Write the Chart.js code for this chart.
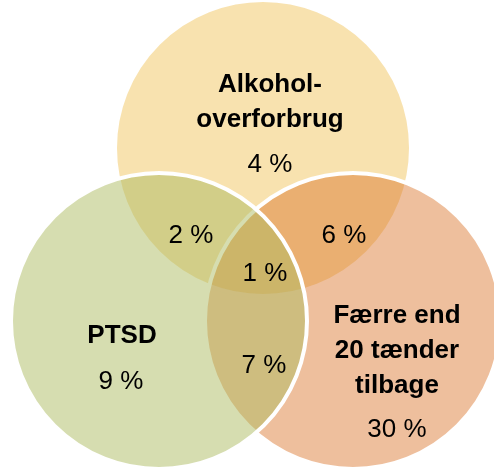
<!DOCTYPE html>
<html>
<head>
<meta charset="utf-8">
<script src="https://cdn.jsdelivr.net/npm/chart.js@4"></script>
<style>
  html, body { margin: 0; padding: 0; background: #fff; }
  canvas { display: block; }
</style>
</head>
<body>
<canvas id="venn" width="494" height="472"></canvas>
<script>
// ======== Dados ========
const grupos = ["Alkoholoverforbrug", "PTSD", "Færre end 20 tænder tilbage"];
const cirkelX = [263, 159, 353];
const cirkelY = [148, 321, 321];
const cirkelR = [148, 148, 148];
const farver = ["rgba(241,198,95,0.5)", "rgba(173,187,97,0.5)", "rgba(218,113,38,0.45)"];
// tegneorden: gul nederst, orange, grøn øverst
const tegneorden = [3, 1, 2];

// tekster i hvert område
const omraadeTekst = [
  ["Alkohol-", "overforbrug"],
  ["PTSD"],
  ["Færre end", "20 tænder", "tilbage"],
];
const procenter = ["4 %", "9 %", "30 %", "2 %", "6 %", "7 %", "1 %"];

// placering af tekster i samme enheder som akserne
const navnX = [270, 122, 397];
const navnY = [92, 343, 323];
const procentX = [270, 121, 397, 191, 344, 264, 265];
const procentY = [172, 389, 437, 243, 243, 373, 281];
const linjeAfstand = 35;

// ======== Plugin til tekster ========
const tekstPlugin = {
  id: "tekster",
  afterDatasetsDraw(chart) {
    const { ctx, scales } = chart;
    ctx.save();
    ctx.fillStyle = "#000";
    ctx.textAlign = "center";
    ctx.textBaseline = "alphabetic";

    ctx.font = "bold 26px 'Liberation Sans', Arial, sans-serif";
    omraadeTekst.forEach((linjer, i) => {
      const x = scales.x.getPixelForValue(navnX[i]);
      linjer.forEach((linje, j) => {
        const y = scales.y.getPixelForValue(navnY[i] + j * linjeAfstand);
        ctx.fillText(linje, x, y);
      });
    });

    ctx.font = "26px 'Liberation Sans', Arial, sans-serif";
    procenter.forEach((p, i) => {
      ctx.fillText(p, scales.x.getPixelForValue(procentX[i]), scales.y.getPixelForValue(procentY[i]));
    });
    ctx.restore();
  },
};

// ======== Diagram ========
const ctx = document.getElementById("venn").getContext("2d");
new Chart(ctx, {
  type: "bubble",
  data: {
    datasets: grupos.map((navn, i) => ({
      label: navn,
      data: [{ x: cirkelX[i], y: cirkelY[i], r: cirkelR[i] }],
      backgroundColor: farver[i],
      borderColor: "#ffffff",
      borderWidth: 4,
      hoverBorderWidth: 4,
      order: tegneorden[i],
      clip: false,
    })),
  },
  options: {
    responsive: false,
    animation: false,
    events: [],
    layout: { padding: 0, autoPadding: false },
    plugins: {
      legend: { display: false },
      tooltip: { enabled: false },
    },
    scales: {
      x: { type: "linear", min: 0, max: 494, display: false },
      y: { type: "linear", min: 0, max: 472, reverse: true, display: false },
    },
  },
  plugins: [tekstPlugin],
});
</script>
</body>
</html>
